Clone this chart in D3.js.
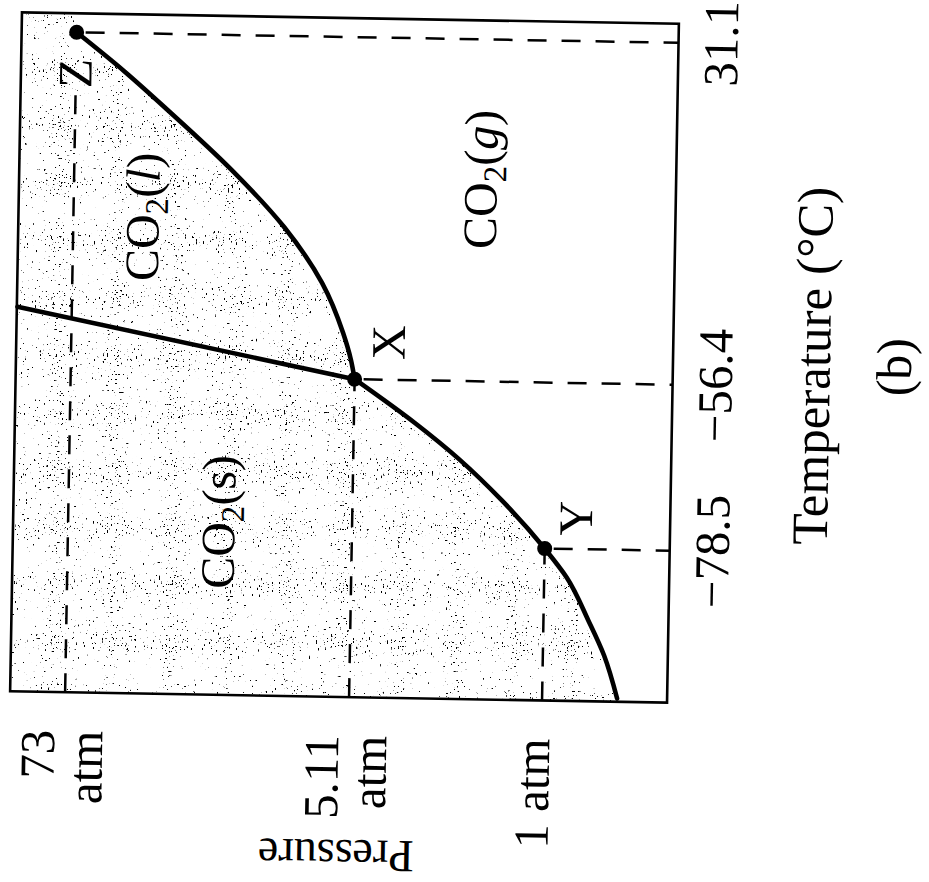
<!DOCTYPE html>
<html>
<head>
<meta charset="utf-8">
<script src="https://cdn.jsdelivr.net/npm/d3@7"></script>
<style>
  body { margin: 0; background: #fff; }
  text { font-family: "Liberation Serif", "DejaVu Serif", serif; fill: #000; }
</style>
</head>
<body>
<div id="chart"></div>
<script>
// phase diagram of CO2, drawn upright and then turned a quarter turn like the scan

// axis ticks
const tempTicks = [-78.5, -56.4, 31.1];
const tempLabels = ["\u221278.5", "\u221256.4", "31.1"];
const pressureTicks = [1, 5.11, 73];
const pressureLabels = [["1 atm"], ["5.11", "atm"], ["73", "atm"]];

// special points (Y = normal sublimation, X = triple, Z = critical)
const pointNames = ["Y", "X", "Z"];
const pointT = [-78.5, -56.4, 31.1];
const pointP = [1, 5.11, 73];
const pointLabelT = [-74.4, -46.8, 20.6];
const pointLabelP = [0.76, 4.41, 73.3];

// phase boundaries
const solidVapourT = [-98.3, -92.6, -88.0, -82.3, -78.5, -72.2, -66.9, -62.1, -56.4];
const solidVapourP = [0.40, 0.51, 0.64, 0.82, 1, 1.93, 2.84, 3.81, 5.11];
const liquidVapourT = [-56.4, -51.5, -44.6, -31.9, -17.8, -3.4, 11.7, 21.3, 31.1];
const liquidVapourP = [5.11, 6.07, 8.07, 13.3, 22.6, 35.4, 51.0, 61.4, 73];
const solidLiquidT = [-56.4, -39.4];
const solidLiquidP = [5.11, 86];

// region labels
const regionPhase = ["l", "g", "s"];
const regionT = [-15.8, -4.7, -75.7];
const regionP = [56.6, 2.51, 37.2];

const W = 679, H = 657;
const fontSize = 48;

const svg = d3.select("#chart").append("svg").attr("width", 929).attr("height", 882);

// stipple texture for the condensed phases
const defs = svg.append("defs");
const filt = defs.append("filter").attr("id", "stipple")
  .attr("x", 0).attr("y", 0).attr("width", 1).attr("height", 1);
filt.append("feTurbulence").attr("type", "fractalNoise")
  .attr("baseFrequency", 0.55).attr("numOctaves", 3).attr("seed", 11);
filt.append("feColorMatrix").attr("type", "matrix")
  .attr("values", "0 0 0 0 0  0 0 0 0 0  0 0 0 0 0  22 0 0 0 -14.4");

const g = svg.append("g")
  .attr("transform", `translate(344.5,357.5) rotate(-89) translate(${-W / 2},${-H / 2})`);

// schematic (piecewise) scales
const x = d3.scaleLinear().domain(tempTicks).range([152, 318, 660]);
const y = d3.scaleLinear().domain([0].concat(pressureTicks)).range([H, 532, 339, 55]);

const zip = (ts, ps) => ts.map((t, i) => [t, ps[i]]);
const line = d3.line().x(d => x(d[0])).y(d => y(d[1])).curve(d3.curveMonotoneX);

const sv = zip(solidVapourT, solidVapourP);
const lv = zip(liquidVapourT, liquidVapourP);

// shaded area: everything on the cold / high pressure side of the curve
const shade = [[0, 0], [W, 0], [W, y(73)]]
  .concat(lv.slice().reverse().map(d => [x(d[0]), y(d[1])]))
  .concat(sv.slice().reverse().slice(1).map(d => [x(d[0]), y(d[1])]))
  .concat([[0, y(sv[0][1])]]);

defs.append("clipPath").attr("id", "shadeClip")
  .append("path").attr("d", d3.line()(shade) + "Z");

g.append("rect")
  .attr("width", W).attr("height", H)
  .attr("fill", "#fff")
  .attr("filter", "url(#stipple)")
  .attr("clip-path", "url(#shadeClip)");

// labels inside the diagram (drawn first so the Z label can cut its guide)
const regions = g.selectAll(".region")
  .data(regionPhase)
  .enter()
  .append("text")
  .attr("class", "region")
  .attr("x", (d, i) => x(regionT[i]))
  .attr("y", (d, i) => y(regionP[i]))
  .attr("dy", "0.35em")
  .attr("text-anchor", "middle")
  .attr("font-size", fontSize);
regions.each(function(d) {
  const t = d3.select(this);
  t.append("tspan").text("CO");
  t.append("tspan").attr("font-size", 33).attr("dy", 9).text("2");
  t.append("tspan").attr("dy", -9).text("(");
  t.append("tspan").attr("font-style", d === "s" ? null : "italic").text(d);
  t.append("tspan").text(")");
});

const pointLabels = g.selectAll(".plabel")
  .data(pointNames)
  .enter()
  .append("text")
  .attr("class", "plabel")
  .attr("x", (d, i) => x(pointLabelT[i]))
  .attr("y", (d, i) => y(pointLabelP[i]))
  .attr("dy", "0.35em")
  .attr("text-anchor", "middle")
  .attr("font-size", fontSize)
  .text(d => d);

const zBox = pointLabels.filter(d => d === "Z").node().getBBox();

// dashed guides to both axes
const guides = g.append("g")
  .attr("stroke", "#000")
  .attr("stroke-width", 2.5)
  .attr("stroke-dasharray", "19,15")
  .attr("fill", "none");

pointNames.forEach((name, i) => {
  const px = x(pointT[i]), py = y(pointP[i]);
  const stop = name === "Z" ? zBox.x - 4 : px;
  guides.append("line").attr("x1", 0).attr("x2", stop).attr("y1", py).attr("y2", py);
  guides.append("line").attr("x1", px).attr("x2", px).attr("y1", py + 9).attr("y2", H);
});

// phase boundaries
const curves = g.append("g")
  .attr("fill", "none")
  .attr("stroke", "#000")
  .attr("stroke-width", 4.6)
  .attr("stroke-linecap", "round");
curves.append("path").attr("d", line(sv));
curves.append("path").attr("d", line(lv));
curves.append("path").attr("d", line(zip(solidLiquidT, solidLiquidP)));

// frame
g.append("rect")
  .attr("width", W).attr("height", H)
  .attr("fill", "none")
  .attr("stroke", "#000")
  .attr("stroke-width", 2.6);

g.selectAll(".dot")
  .data(pointNames)
  .enter()
  .append("circle")
  .attr("class", "dot")
  .attr("cx", (d, i) => x(pointT[i]))
  .attr("cy", (d, i) => y(pointP[i]))
  .attr("r", 7.5)
  .attr("fill", "#000");

// temperature axis
g.selectAll(".tlabel")
  .data(tempTicks)
  .enter()
  .append("text")
  .attr("class", "tlabel")
  .attr("x", d => x(d))
  .attr("y", H + 42)
  .attr("dy", "0.35em")
  .attr("text-anchor", "middle")
  .attr("font-size", 49)
  .text((d, i) => tempLabels[i]);

g.append("text")
  .attr("x", W / 2)
  .attr("y", H + 157)
  .attr("text-anchor", "middle")
  .attr("font-size", 51)
  .text("Temperature (\u00B0C)");

g.append("text")
  .attr("x", W / 2)
  .attr("y", H + 238)
  .attr("text-anchor", "middle")
  .attr("font-size", 50)
  .text("(b)");

// pressure axis
pressureTicks.forEach((p, i) => {
  const lines = pressureLabels[i];
  const t = g.append("text")
    .attr("text-anchor", "end")
    .attr("font-size", 49);
  lines.forEach((s, j) => {
    const base = lines.length === 1 ? y(p) + 8 : y(p) - 10 + j * 48;
    t.append("tspan").attr("x", -38).attr("y", base).text(s);
  });
});

g.append("text")
  .attr("transform", `translate(-143,${H / 2}) rotate(-90)`)
  .attr("text-anchor", "middle")
  .attr("font-size", 46)
  .text("Pressure");
</script>
</body>
</html>
